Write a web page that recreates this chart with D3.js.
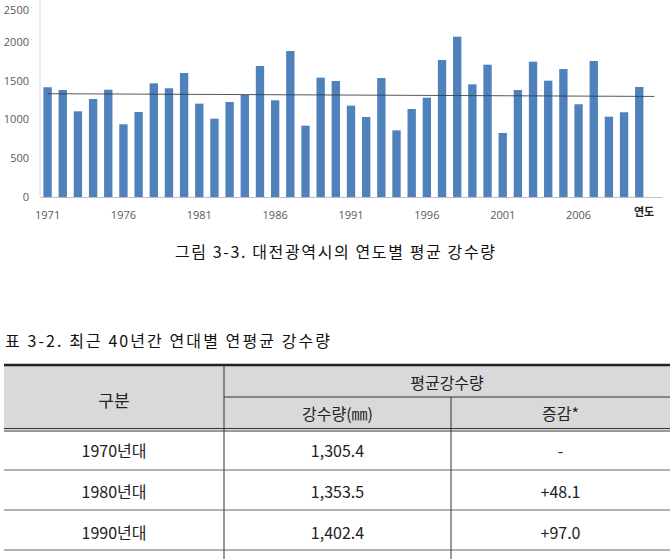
<!DOCTYPE html>
<html><head><meta charset="utf-8">
<script src="https://cdn.jsdelivr.net/npm/d3@7"></script>
<style>
html,body{margin:0;padding:0;background:#fff;}
svg{display:block;}
</style></head>
<body>
<svg id="c" width="670" height="559"></svg>
<script>
// ---- data ----
const years = d3.range(1971, 2012); // 41 category slots (last one empty)
const rainfall = [1414,1379,1104,1263,1383,937,1095,1465,1401,1598,
                  1203,1009,1224,1314,1688,1246,1881,919,1538,1495,
                  1177,1031,1533,859,1134,1280,1765,2066,1452,1705,
                  825,1379,1744,1499,1649,1195,1753,1035,1092,1418];
const yTicks = [0,500,1000,1500,2000,2500];
const xTickYears = [1971,1976,1981,1986,1991,1996,2001,2006];
const trendYears = [1971, 2011];
const trendValues = [1331, 1296];
const xAxisTitle = "연도";
const figCaption = "그림 3-3. 대전광역시의 연도별 평균 강수량";
const tableCaption = "표 3-2. 최근 40년간 연대별 연평균 강수량";
const headerTop = ["구분", "평균강수량"];
const headerSub = ["강수량(㎜)", "증감*"];
const decades = ["1970년대", "1980년대", "1990년대"];
const decadeRain = ["1,305.4", "1,353.5", "1,402.4"];
const decadeChange = ["-", "+48.1", "+97.0"];

const svg = d3.select("#c");
const KR = "'Noto Sans CJK KR','Noto Sans',sans-serif";

// ---- chart ----
const x = d3.scaleBand().domain(years).range([40, 662]).paddingInner(0.45).paddingOuter(0.225);
const y = d3.scaleLinear().domain([0, 2500]).range([197, 3]);

// y axis
const ya = svg.append("g").attr("transform", "translate(40,0)")
  .call(d3.axisLeft(y).tickValues(yTicks).tickFormat(d3.format("d")).tickSize(0).tickPadding(11));
ya.select(".domain").attr("stroke", "#d9d9d9").attr("d", "M0,0V197");
ya.selectAll("text").attr("font-family", "'Open Sans',sans-serif").attr("font-size", 11).attr("fill", "#595959");
// keep the top label fully inside the picture
ya.selectAll(".tick").filter(d => d === 2500).select("text").attr("dy", "0.32em").attr("y", 7);

// bars
svg.append("g").selectAll("rect").data(rainfall).join("rect")
  .attr("x", (d, i) => x(years[i]))
  .attr("y", d => y(d))
  .attr("width", x.bandwidth())
  .attr("height", d => y(0) - y(d))
  .attr("fill", "#4f81bd");

// x axis
const xa = svg.append("g").attr("transform", "translate(0,197)")
  .call(d3.axisBottom(x).tickValues(xTickYears).tickSize(0).tickPadding(14));
xa.select(".domain").attr("stroke", "#c0c0c0");
xa.selectAll("text").attr("font-family", "'Open Sans',sans-serif").attr("font-size", 11).attr("fill", "#595959");

// trend line
const line = d3.line().x(d => x(d[0]) + x.bandwidth() / 2).y(d => y(d[1]));
svg.append("path").datum(trendYears.map((t, i) => [t, trendValues[i]]))
  .attr("d", line).attr("fill", "none").attr("stroke", "#3a3a3a").attr("stroke-width", 1).attr("opacity", 0.85);

svg.append("text").text(xAxisTitle).attr("x", 644).attr("y", 216)
  .attr("text-anchor", "middle").attr("font-family", KR).attr("font-weight", "bold")
  .attr("font-size", 11).attr("fill", "#222");

// captions
svg.append("text").text(figCaption).attr("x", 335).attr("y", 258)
  .attr("text-anchor", "middle").attr("font-family", KR).attr("font-size", 16).attr("fill", "#111")
  .attr("textLength", 320).attr("lengthAdjust", "spacing");
svg.append("text").text(tableCaption).attr("x", 5).attr("y", 347)
  .attr("font-family", KR).attr("font-size", 16).attr("fill", "#111")
  .attr("textLength", 325).attr("lengthAdjust", "spacing");

// ---- table ----
const colX = [4, 224, 451, 670];
const tTop = 365, subLine = 397, hBot = 430;
const rowH = 40;
const t = svg.append("g");
t.append("rect").attr("x", colX[0]).attr("y", tTop).attr("width", colX[3] - colX[0]).attr("height", hBot - tTop).attr("fill", "#d9d9d9");
// row lines
decades.forEach((d, i) => {
  t.append("line").attr("x1", colX[0]).attr("x2", colX[3])
    .attr("y1", hBot + rowH * (i + 1)).attr("y2", hBot + rowH * (i + 1))
    .attr("stroke", "#9a9a9a").attr("stroke-width", 1.5);
});
// header lines
t.append("line").attr("x1", colX[0]).attr("x2", colX[3]).attr("y1", tTop).attr("y2", tTop).attr("stroke", "#222").attr("stroke-width", 2.5);
t.append("line").attr("x1", colX[1]).attr("x2", colX[3]).attr("y1", subLine).attr("y2", subLine).attr("stroke", "#333").attr("stroke-width", 1);
t.append("line").attr("x1", colX[0]).attr("x2", colX[3]).attr("y1", hBot - 1.5).attr("y2", hBot - 1.5).attr("stroke", "#333").attr("stroke-width", 1);
t.append("line").attr("x1", colX[0]).attr("x2", colX[3]).attr("y1", hBot + 1).attr("y2", hBot + 1).attr("stroke", "#333").attr("stroke-width", 1);
// verticals
t.append("line").attr("x1", colX[1]).attr("x2", colX[1]).attr("y1", tTop).attr("y2", 559).attr("stroke", "#333");
t.append("line").attr("x1", colX[2]).attr("x2", colX[2]).attr("y1", subLine).attr("y2", 559).attr("stroke", "#333");

const txt = (s, cx, cy, size) => t.append("text").text(s).attr("x", cx).attr("y", cy)
  .attr("text-anchor", "middle").attr("dominant-baseline", "central")
  .attr("font-family", KR).attr("font-size", size).attr("fill", "#222");
txt(headerTop[0], (colX[0] + colX[1]) / 2, 399, 17);
txt(headerTop[1], (colX[1] + colX[3]) / 2, 382, 16);
txt(headerSub[0], (colX[1] + colX[2]) / 2, 413, 16);
txt(headerSub[1], (colX[2] + colX[3]) / 2, 413, 16);
const rowCY = [450, 491, 532];
decades.forEach((d, i) => {
  txt(d, (colX[0] + colX[1]) / 2, rowCY[i], 16);
  txt(decadeRain[i], (colX[1] + colX[2]) / 2, rowCY[i], 16);
  txt(decadeChange[i], (colX[2] + colX[3]) / 2, rowCY[i], 16);
});
</script>
</body></html>
